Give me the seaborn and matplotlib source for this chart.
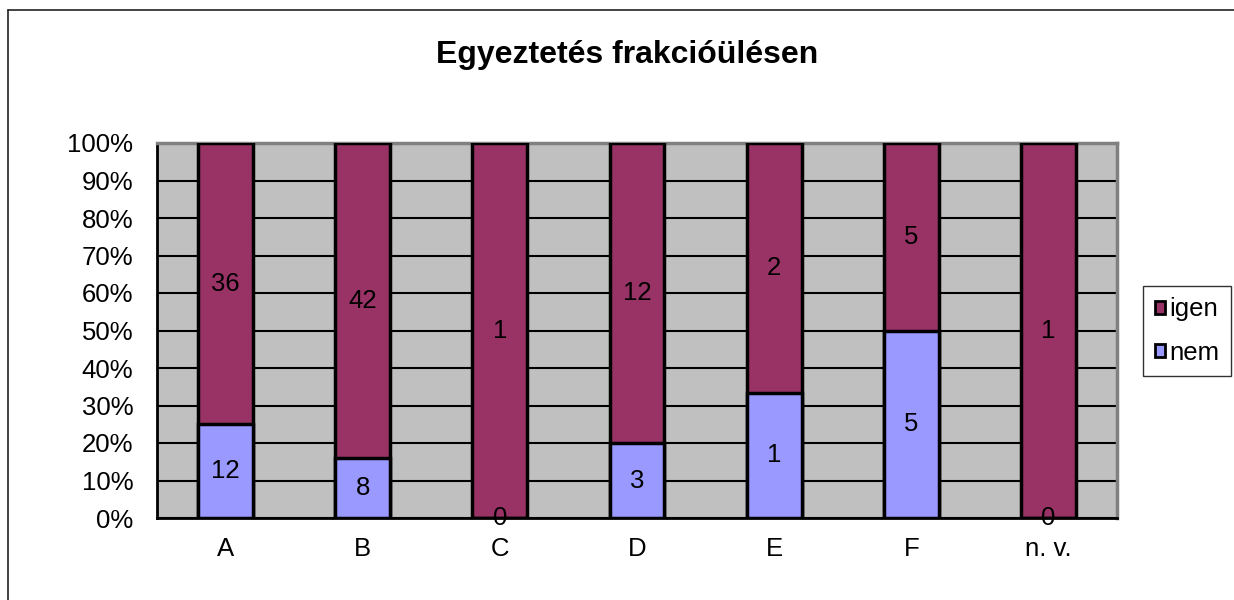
import pandas as pd
import matplotlib.pyplot as plt
import seaborn as sns
import numpy as np
from matplotlib.lines import Line2D
from matplotlib.patches import Patch

categories = ['A', 'B', 'C', 'D', 'E', 'F', 'n. v.']
igen = [36, 42, 1, 12, 2, 5, 1]
nem = [12, 8, 0, 3, 1, 5, 0]

igen_color = '#993366'
nem_color = '#9999FF'

sns.set_style('white')
plt.rcParams['font.family'] = ['Liberation Sans', 'DejaVu Sans']
plt.rcParams['text.color'] = 'black'
plt.rcParams['xtick.labelcolor'] = 'black'
plt.rcParams['ytick.labelcolor'] = 'black'

FS = 18.5

df = pd.DataFrame({'cat': categories, 'igen': igen, 'nem': nem})
df['total'] = df['igen'] + df['nem']
df['nem_pct'] = df['nem'] / df['total'] * 100
df['all_pct'] = 100.0

fig = plt.figure(figsize=(12.34, 6), dpi=100)
ax = fig.add_axes([157 / 1234, 1 - 518 / 600, (1117 - 157) / 1234, (518 - 143) / 600])
ax.set_facecolor('#C0C0C0')

# full-height igen bars, nem drawn over them from the bottom
sns.barplot(data=df, x='cat', y='all_pct', color=igen_color, width=0.4,
            edgecolor='black', linewidth=2.5, saturation=1, ax=ax, zorder=3)
sns.barplot(data=df, x='cat', y='nem_pct', color=nem_color, width=0.4,
            edgecolor='black', linewidth=2.5, saturation=1, ax=ax, zorder=4)

ax.set_ylim(0, 100)
ax.set_xlim(-0.5, len(categories) - 0.5)
ax.set_yticks(np.arange(0, 101, 10))
ax.set_yticklabels([f'{v}%' for v in range(0, 101, 10)], fontsize=FS)
ax.yaxis.grid(True, color='black', linewidth=1.5, zorder=1)
ax.set_axisbelow(True)

ax.set_xticks(np.arange(-0.5, len(categories), 1))
ax.set_xticklabels([])
ax.set_xticks(np.arange(len(categories)), minor=True)
ax.set_xticklabels(categories, minor=True, fontsize=FS)
ax.tick_params(axis='x', which='major', direction='out', length=8, width=1.5, color='black')
ax.tick_params(axis='x', which='minor', length=0, pad=14)
ax.tick_params(axis='y', direction='out', length=8, width=1.5, color='black', pad=9)
ax.set_xlabel('')
ax.set_ylabel('')

for side in ['left', 'bottom']:
    ax.spines[side].set_color('black')
    ax.spines[side].set_linewidth(2)
for side in ['top', 'right']:
    ax.spines[side].set_color('#808080')
    ax.spines[side].set_linewidth(2.5)

# value labels centred in each segment
for i, row in df.iterrows():
    np_ = row['nem_pct']
    ax.text(i, np_ / 2, str(row['nem']), ha='center', va='center', fontsize=FS, zorder=6)
    ax.text(i, np_ + (100 - np_) / 2, str(row['igen']), ha='center', va='center',
            fontsize=FS, zorder=6)

fig.text(627 / 1234, 1 - 55 / 600, 'Egyeztetés frakcióülésen', ha='center', va='center',
         fontsize=23, fontweight='bold')

handles = [Patch(facecolor=igen_color, edgecolor='black', linewidth=2),
           Patch(facecolor=nem_color, edgecolor='black', linewidth=2)]
leg = fig.legend(handles, ['igen', 'nem'], loc='center', bbox_to_anchor=(1187 / 1234, 1 - 331 / 600),
                 fontsize=FS, frameon=True, fancybox=False, edgecolor='black',
                 handlelength=0.4, handleheight=0.4, handletextpad=0.15,
                 labelspacing=0.75, borderpad=0.45, borderaxespad=0)
leg.get_frame().set_linewidth(1)

# outer chart border (left and top edges)
fig.add_artist(Line2D([8 / 1234, 8 / 1234], [0, 1 - 10 / 600], color='#222222', linewidth=1.2))
fig.add_artist(Line2D([8 / 1234, 1], [1 - 10 / 600, 1 - 10 / 600], color='#222222', linewidth=1.2))

fig.savefig('out.png', dpi=100)
